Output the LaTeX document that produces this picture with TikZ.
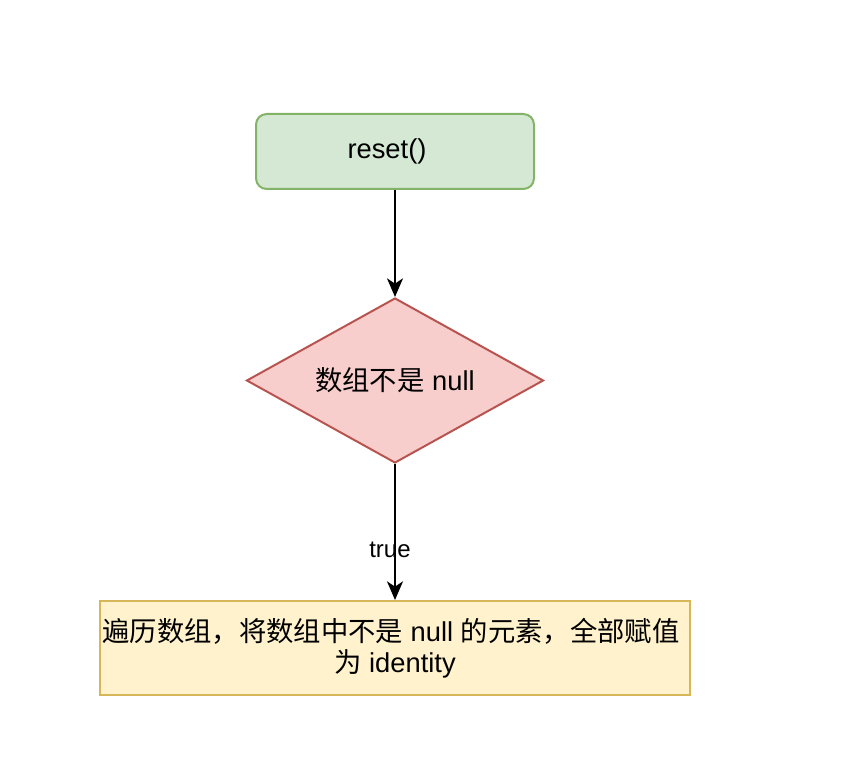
\documentclass[tikz,border=0pt]{standalone}
\usepackage{fontspec}
\setmainfont{Liberation Sans}
\newfontfamily\cjk{Noto Sans CJK SC}
\usetikzlibrary{shapes.geometric,arrows.meta}
\definecolor{gfill}{HTML}{D5E8D4}
\definecolor{gline}{HTML}{82B366}
\definecolor{rfill}{HTML}{F8CECC}
\definecolor{rline}{HTML}{B85450}
\definecolor{yfill}{HTML}{FFF2CC}
\definecolor{yline}{HTML}{D6B656}
\tikzset{
  startbox/.style={draw=gline,fill=gfill,line width=1.5pt,rounded corners=8pt,minimum width=278*0.75pt,minimum height=75*0.75pt,inner sep=0pt,font=\fontsize{20.5pt}{24pt}\selectfont},
  decbox/.style={diamond,aspect=1.8,draw=rline,fill=rfill,line width=1.5pt,minimum width=297*0.75pt,minimum height=165*0.75pt,inner sep=0pt,font=\fontsize{20.5pt}{24pt}\selectfont},
  procbox/.style={draw=yline,fill=yfill,line width=1.5pt,minimum width=590*0.75pt,minimum height=94*0.75pt,inner sep=0pt,align=center,font=\fontsize{20.5pt}{23.5pt}\selectfont},
  conn/.style={line width=1.5pt,-{Stealth[length=14pt,width=12pt,inset=4pt]}},
  lbl/.style={font=\fontsize{18pt}{20pt}\selectfont,inner sep=0pt}
}
\begin{document}
\begin{tikzpicture}[x=0.75pt,y=-0.75pt]
\useasboundingbox (0,0) rectangle (864,762);
\node[startbox] (start) at (395,151.5) {\hspace*{-12pt}reset()};
\node[decbox] (dec) at (395,380.5) {{\cjk 数组不是} null};
\node[procbox] (proc) at (395,648) {\hspace*{-6pt}{\cjk 遍历数组，将数组中不是} null {\cjk 的元素，全部赋值}\\{\cjk 为} identity};
\draw[conn] (start.south) -- (dec.north);
\draw[conn] (dec.south) -- (proc.north);
\node[lbl] (truelbl) at (390,550) {true};
\end{tikzpicture}
\end{document}
